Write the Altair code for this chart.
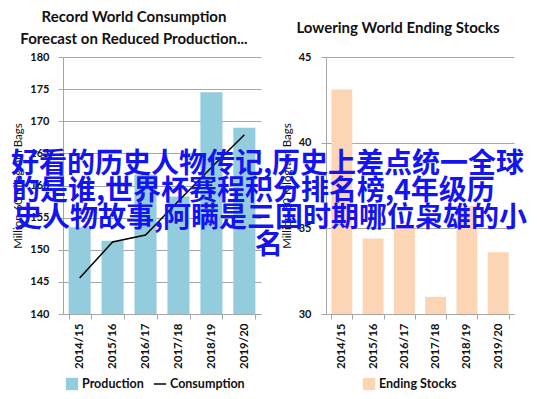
import altair as alt
import pandas as pd

seasons = ["2014/15", "2015/16", "2016/17", "2017/18", "2018/19", "2019/20"]
production = [153.5, 151.4, 161.7, 158.3, 174.5, 169.0]
consumption = [145.6, 151.2, 152.3, 157.6, 162.8, 167.9]
ending_stocks = [43.1, 34.4, 35.0, 31.0, 36.3, 33.6]

left_title = ["Record World Consumption", "Forecast on Reduced Production..."]
right_title = "Lowering World Ending Stocks"
y_title = "Million 60 Kilogram Bags"
overlay_lines = [
    "好看的历史人物传记,历史上差点统一全球",
    "的是谁,世界杯赛程积分排名榜,4年级历",
    "史人物故事,阿瞒是三国时期哪位枭雄的小",
    "名",
]

FONT = "Lato"
GRID = "#A6A6A6"
BLUE_BAR = "#93CDDD"
PEACH_BAR = "#FCD5B5"

prod_df = pd.DataFrame({"Season": seasons, "Value": production, "Series": "Production"})
cons_df = pd.DataFrame({"Season": seasons, "Value": consumption, "Series": "Consumption"})
stock_df = pd.DataFrame({"Season": seasons, "Value": ending_stocks, "Series": "Ending Stocks"})


def x_enc():
    return alt.X(
        "Season:N", sort=seasons,
        scale=alt.Scale(paddingInner=0.33, paddingOuter=0.17),
        axis=alt.Axis(title=None, labelAngle=-90, labelFont=FONT, labelFontWeight="bold",
                      labelFontSize=11.5, labelColor="#111", labelPadding=4,
                      tickBand="extent", tickSize=5, tickColor=GRID, domainColor=GRID,
                      grid=False),
    )


def y_axis(values, lab_pad):
    return alt.Axis(values=values, title=y_title, titleFont=FONT, titleFontSize=11.5,
                    titleFontWeight="normal", titleColor="#111", titlePadding=6,
                    labelFont=FONT, labelFontWeight="bold", labelFontSize=11,
                    labelColor="#111", labelPadding=lab_pad, tickSize=5,
                    tickColor=GRID, domainColor=GRID, gridColor=GRID, gridWidth=1,
                    labelOverlap=False)


def legend(x, y, sym):
    return alt.Legend(title=None, orient="none", legendX=x, legendY=y,
                      labelFont=FONT, labelFontWeight="bold", labelFontSize=12.5,
                      labelColor="#111", symbolType=sym, symbolSize=150,
                      symbolStrokeWidth=1.5, labelOffset=3, padding=0)


left_y = alt.Y("Value:Q", scale=alt.Scale(domain=[140, 180], zero=False, nice=False),
               axis=y_axis(list(range(140, 181, 5)), 9))

bars = alt.Chart(prod_df).mark_bar(clip=True).encode(
    x=x_enc(),
    y=left_y,
    y2=alt.datum(140),
    fill=alt.Fill("Series:N", scale=alt.Scale(domain=["Production"], range=[BLUE_BAR]),
                  legend=legend(2, 320, "square")),
)
line = alt.Chart(cons_df).mark_line(strokeWidth=1.5).encode(
    x=x_enc(),
    y=left_y,
    stroke=alt.Stroke("Series:N", scale=alt.Scale(domain=["Consumption"], range=["#000000"]),
                      legend=legend(90, 320, "stroke")),
)
left = alt.layer(bars, line).properties(
    width=198, height=257,
    title=alt.TitleParams(left_title, font=FONT, fontSize=15, fontWeight="bold",
                          color="#111", dx=-28, offset=4, lineHeight=22),
)

sbars = alt.Chart(stock_df).mark_bar(clip=True).encode(
    x=x_enc(),
    y=alt.Y("Value:Q", scale=alt.Scale(domain=[30, 45], zero=False, nice=False),
            axis=y_axis([30, 35, 40, 45], 10)),
    y2=alt.datum(30),
    color=alt.Color("Series:N", scale=alt.Scale(domain=["Ending Stocks"], range=[PEACH_BAR]),
                    legend=legend(36, 320, "square")),
)

overlay_pos = [(-315, 108, "left"), (-314, 135, "left"), (-312, 162, "left"), (-57, 189, "center")]
overlay_layers = []
for txt, (px, py, al) in zip(overlay_lines, overlay_pos):
    overlay_layers.append(
        alt.Chart(pd.DataFrame({"t": [txt]})).mark_text(
            font="Noto Sans CJK SC", fontSize=28, color="#1414F0", align=al,
            baseline="middle", fontWeight="bold",
        ).encode(text="t:N", x=alt.value(px), y=alt.value(py))
    )

right = alt.layer(sbars, *overlay_layers).properties(
    width=188, height=257,
    title=alt.TitleParams(right_title, font=FONT, fontSize=15, fontWeight="bold",
                          color="#111", dx=-22, offset=15),
)

chart = alt.hconcat(left, right, spacing=65, bounds="flush").resolve_scale(
    color="independent", fill="independent", stroke="independent"
).resolve_legend(
    color="independent", fill="independent", stroke="independent"
).properties(
    padding={"left": 3, "top": 2, "right": 0, "bottom": 0}
).configure_view(stroke=None).configure_axisX(grid=False)

chart.save("out.html", embed_options={"renderer": "svg", "actions": False})
